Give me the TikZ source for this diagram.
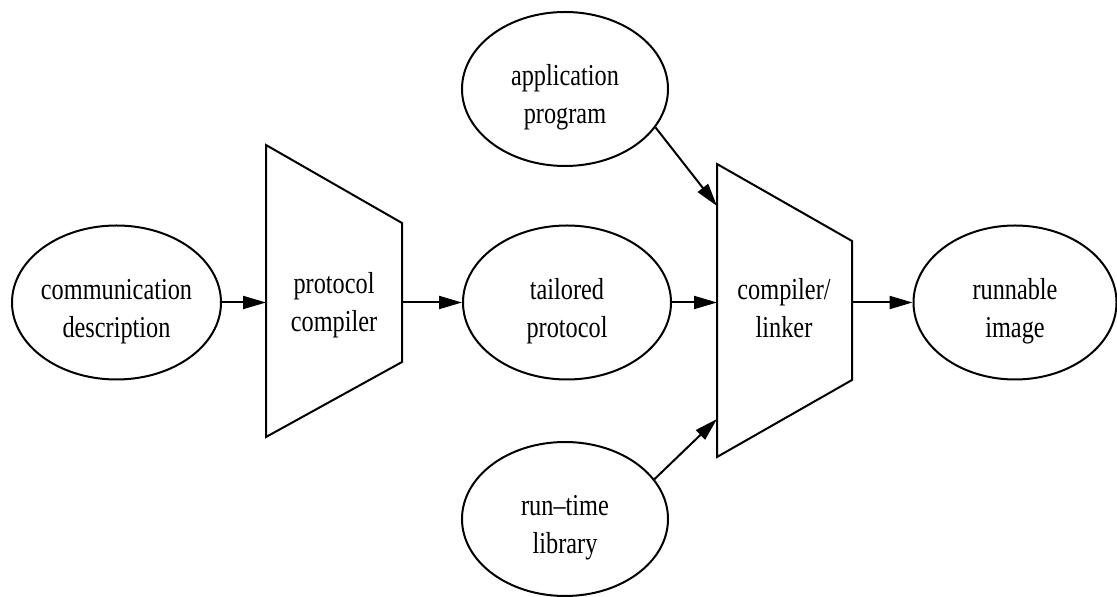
\documentclass[tikz,border=0pt]{standalone}
\usepackage{fontspec}
\usepackage{graphicx}
\setmainfont{Liberation Serif}
\usetikzlibrary{shapes.geometric,arrows.meta}

% two centred lines of label text, set slightly tall
\newcommand\twolines[2]{\scalebox{1}[1.25]{\fontsize{12.15}{15.2}\selectfont
  \begin{tabular}{@{}c@{}}#1\\#2\end{tabular}}}

\begin{document}
\begin{tikzpicture}[x=0.5pt,y=-0.5pt,
  ell/.style={ellipse,draw,line width=1pt,inner sep=0pt,
              minimum width=104pt,minimum height=77pt},
  lbl/.style={inner sep=0pt},
  box/.style={draw,line width=1pt,line join=miter},
  conn/.style={line width=1pt,-{Triangle[length=11.5pt,width=6.5pt]}}]
\useasboundingbox (0,0) rectangle (1117,597);

% data items
\node[ell,minimum width=104.5pt] (comm) at (116.5,302.5) {};
\node[ell] (tail) at (567,302.5) {};
\node[ell,minimum width=103pt] (app) at (565,89) {};
\node[ell,minimum width=103pt] (rt) at (565,519) {};
\node[ell,minimum width=101.5pt] (run) at (1015,302.5) {};

\node[lbl] at ([yshift=-4pt]comm.center) {\twolines{communication}{description}};
\node[lbl] at ([yshift=-4pt]tail.center) {\twolines{tailored}{protocol}};
\node[lbl] at ([yshift=-4pt]app.center) {\twolines{application}{program}};
\node[lbl] at ([yshift=-4pt]rt.center) {\twolines{run--time}{library}};
\node[lbl] at ([yshift=-4pt]run.center) {\twolines{runnable}{image}};

% processing stages
\draw[box] (266,145) -- (402,223) -- (402,362) -- (266,437) -- cycle;
\draw[box] (717,164) -- (852,241) -- (852,380) -- (717,457) -- cycle;
\node[lbl] (pc) at (334,302.5) [yshift=-1pt] {\twolines{protocol}{compiler}};
\node[lbl] (lk) at (784,302.5) [yshift=-4pt] {\twolines{compiler/}{linker}};

\coordinate (pcIn)  at (266,302.5);
\coordinate (pcOut) at (402,302.5);
\coordinate (lkIn)  at (717,302.5);
\coordinate (lkTop) at (717,206);
\coordinate (lkBot) at (717,419);
\coordinate (lkOut) at (852,302.5);

% flow
\draw[conn] (comm.east) -- (pcIn);
\draw[conn] (pcOut) -- (tail.west);
\draw[conn] (tail.east) -- (lkIn);
\draw[conn] (app.-23) -- (lkTop);
\draw[conn] (rt.24) -- (lkBot);
\draw[conn] (lkOut) -- (run.west);
\end{tikzpicture}
\end{document}
